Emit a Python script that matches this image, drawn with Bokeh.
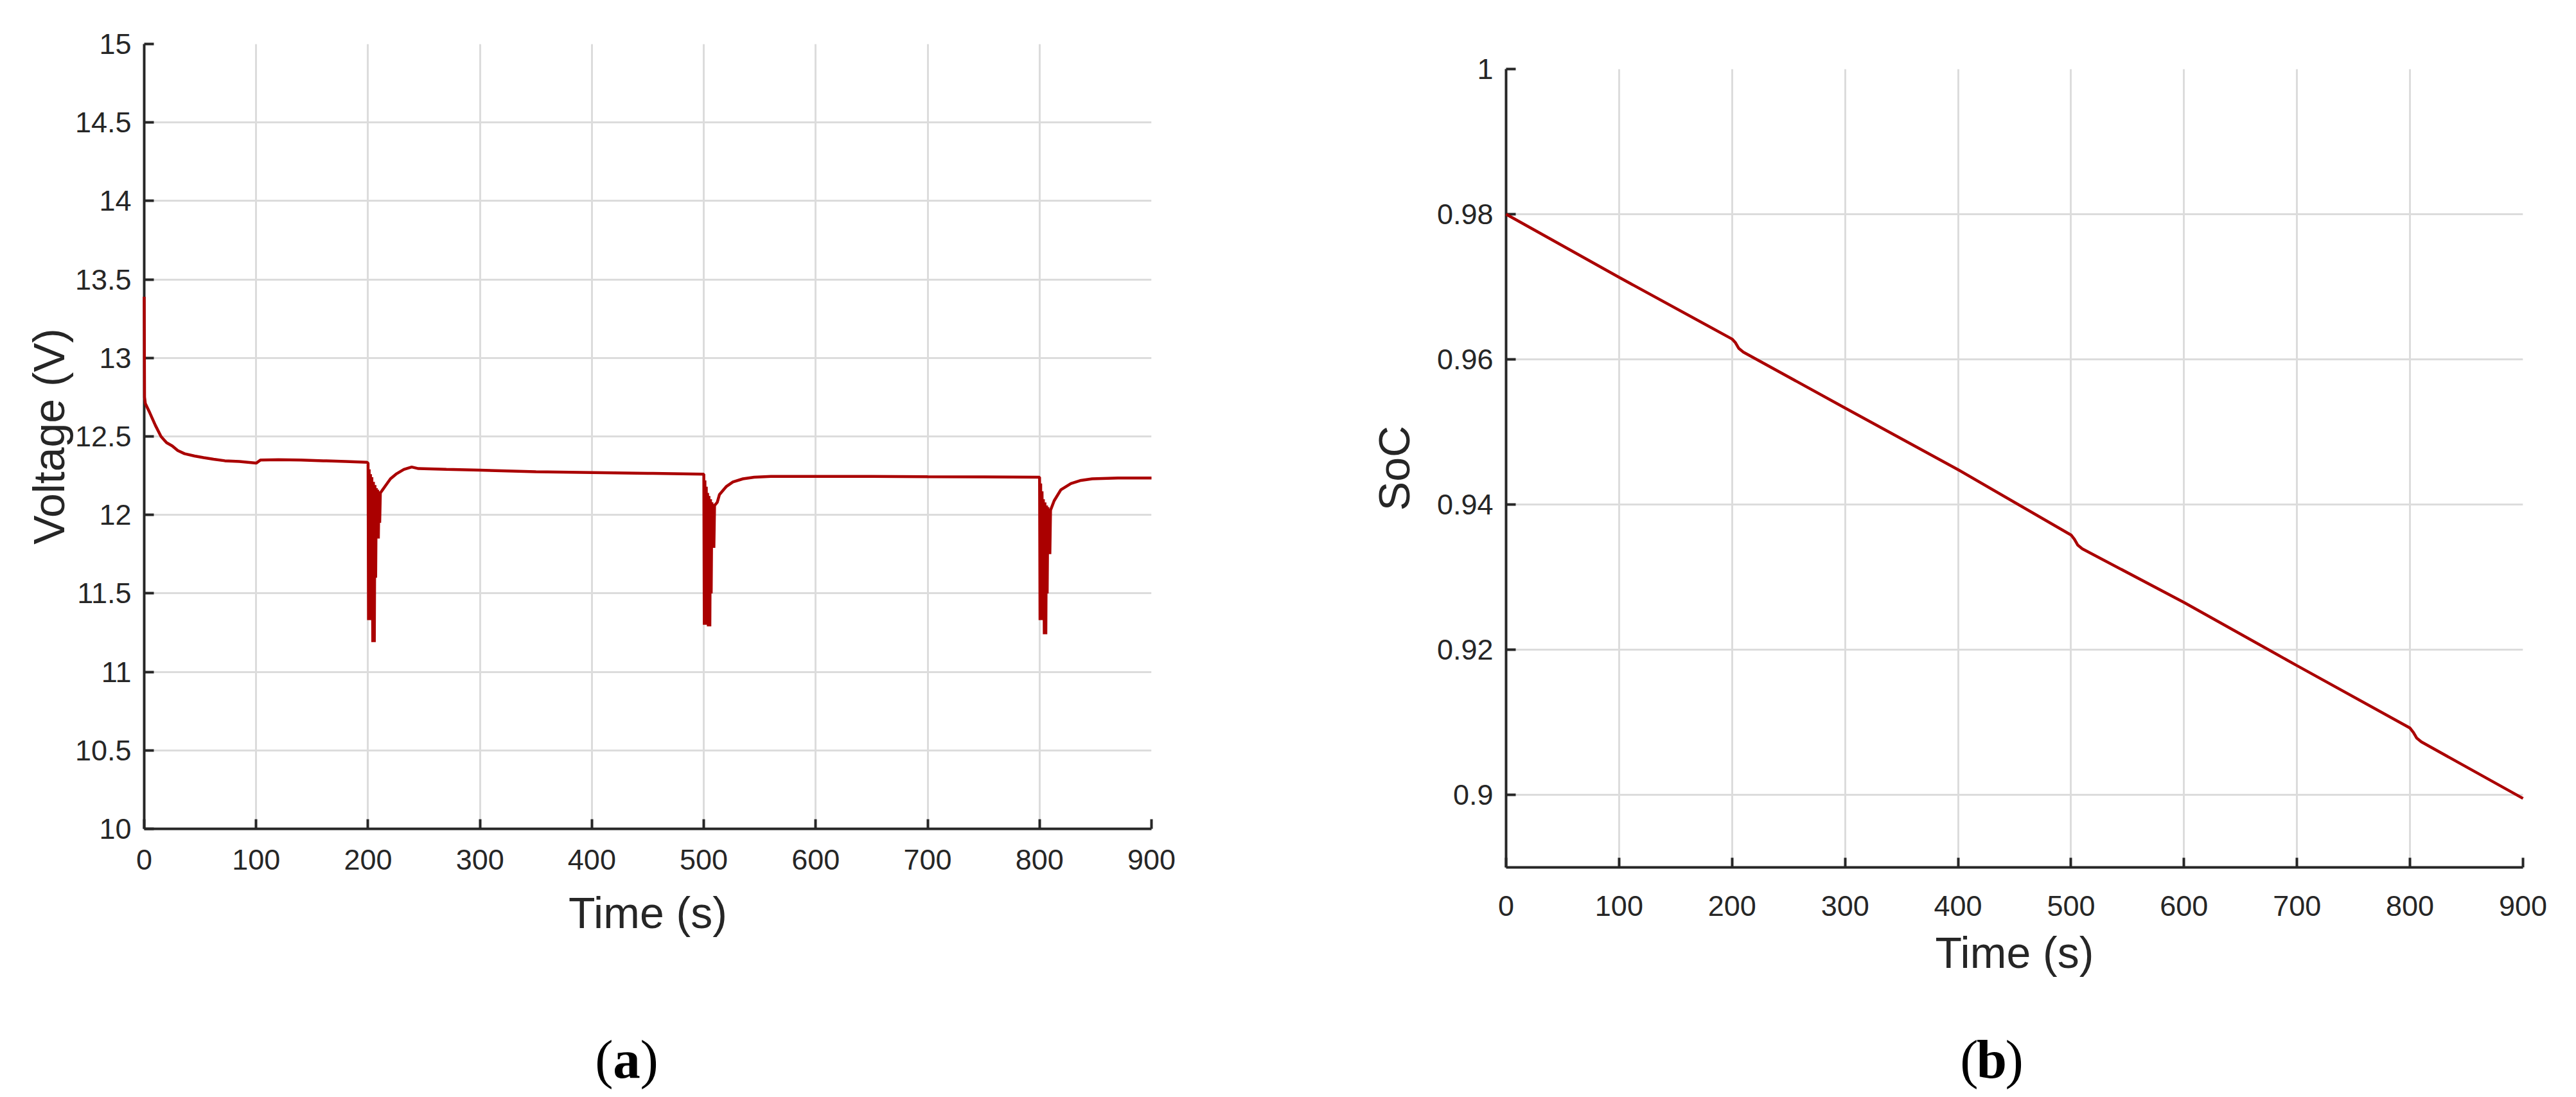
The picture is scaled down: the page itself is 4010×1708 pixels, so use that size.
from bokeh.plotting import figure
from bokeh.layouts import column, row
from bokeh.models import FixedTicker, NumeralTickFormatter, Range1d, Spacer
from bokeh.embed import file_html
from bokeh.resources import INLINE
from bokeh.core.properties import value

# ---------------- data ----------------
x_ticks = [0, 100, 200, 300, 400, 500, 600, 700, 800, 900]
v_ticks = [10, 10.5, 11, 11.5, 12, 12.5, 13, 13.5, 14, 14.5, 15]
soc_ticks = [0.9, 0.92, 0.94, 0.96, 0.98, 1.0]

# (a) terminal voltage (V) vs time (s)
time_v = [0, 0.3, 1, 5, 10, 15, 20, 25, 30, 36, 45, 53, 62, 72, 85, 100, 104, 120, 140, 160, 180, 199,
          200.0, 200.4, 201.0, 201.6, 202.2, 202.8, 203.4, 204.2, 204.8, 205.6, 206.2, 206.8, 207.4, 208.0,
          208.6, 209.2, 209.8, 210.4, 211.0,
          213, 216, 220, 225, 232, 239, 245, 270, 300, 350, 400, 450, 499,
          500.0, 500.4, 501.0, 501.6, 502.2, 502.8, 503.4, 504.0, 504.6, 505.4, 506.0, 506.6, 507.2, 507.8,
          508.4, 509.0, 509.6,
          512, 514, 520, 526, 535, 545, 560, 583, 650, 700, 750, 799,
          800.0, 800.4, 801.0, 801.6, 802.2, 802.8, 803.4, 804.2, 804.8, 805.6, 806.2, 806.8, 807.4, 808.0,
          808.6, 809.2, 809.8,
          813, 819, 828, 837, 847, 870, 900]
voltage = [13.39, 12.75, 12.71, 12.65, 12.57, 12.50, 12.46, 12.44, 12.41, 12.39, 12.375, 12.365, 12.355, 12.345,
           12.34, 12.33, 12.35, 12.352, 12.35, 12.345, 12.34, 12.335,
           12.33, 11.33, 12.29, 11.33, 12.26, 11.70, 12.24, 11.19, 12.21, 11.19, 12.19, 11.60, 12.17, 11.85,
           12.16, 11.85, 12.15, 11.95, 12.14,
           12.16, 12.19, 12.23, 12.26, 12.29, 12.305, 12.295, 12.29, 12.285, 12.275, 12.27, 12.265, 12.26,
           12.26, 11.30, 12.22, 11.30, 12.18, 11.60, 12.14, 11.29, 12.12, 11.29, 12.10, 11.50, 12.08, 11.79,
           12.07, 11.79, 12.06,
           12.08, 12.13, 12.18, 12.21, 12.23, 12.24, 12.245, 12.245, 12.245, 12.243, 12.242, 12.24,
           12.24, 11.33, 12.20, 11.33, 12.15, 11.70, 12.10, 11.24, 12.08, 11.24, 12.06, 11.50, 12.05, 11.75,
           12.04, 11.75, 12.03,
           12.09, 12.16, 12.20, 12.22, 12.23, 12.235, 12.235]

# (b) state of charge vs time (s)
time_soc = [0, 100, 200, 203, 206, 210, 300, 400, 500, 503, 506, 510, 600, 700, 800, 803, 806, 810, 900]
soc = [0.980, 0.9713, 0.9628, 0.9623, 0.9615, 0.9610, 0.9533, 0.9448, 0.9358, 0.9352, 0.9344, 0.9339,
       0.9265, 0.9178, 0.9092, 0.9086, 0.9078, 0.9073, 0.8995]

captions = ["a", "b"]

# ---------------- styling ----------------
LINE = "#aa0000"
DARK = "#262626"
GRID = "#dcdcdc"
FONT = "Liberation Sans"
SERIF = "Liberation Serif"


def style(p, yticks, yfmt, xstand, ystand, xlab_stand, ylab_stand):
    p.outline_line_color = None
    p.background_fill_color = "white"
    p.border_fill_color = "white"
    p.xaxis.ticker = FixedTicker(ticks=x_ticks)
    p.yaxis.ticker = FixedTicker(ticks=yticks)
    p.yaxis.formatter = NumeralTickFormatter(format=yfmt)
    for ax in (p.xaxis, p.yaxis):
        ax.axis_line_color = DARK
        ax.axis_line_width = 4
        ax.major_tick_line_color = DARK
        ax.major_tick_line_width = 4
        ax.major_tick_in = 15
        ax.major_tick_out = 0
        ax.minor_tick_line_color = None
        ax.major_label_text_font = FONT
        ax.major_label_text_font_size = "45px"
        ax.major_label_text_color = DARK
        ax.axis_label_text_font = FONT
        ax.axis_label_text_font_size = "68px"
        ax.axis_label_text_font_style = "normal"
        ax.axis_label_text_color = DARK
    p.xaxis.major_label_standoff = xstand
    p.yaxis.major_label_standoff = ystand
    p.xaxis.axis_label_standoff = xlab_stand
    p.yaxis.axis_label_standoff = ylab_stand
    for g in (p.xgrid, p.ygrid):
        g.grid_line_color = GRID
        g.grid_line_width = 3
    p.xgrid.ticker = FixedTicker(ticks=x_ticks)
    p.ygrid.ticker = FixedTicker(ticks=yticks)


p1 = figure(width=2000, height=1538, output_backend="svg", toolbar_location=None,
            x_range=Range1d(0, 900), y_range=Range1d(10, 15),
            min_border_left=224, min_border_right=208, min_border_top=68, min_border_bottom=248,
            x_axis_label="Time (s)", y_axis_label="Voltage (V)")
style(p1, v_ticks, "0.[0]", 32, 20, 26, 0)
p1.line(time_v, voltage, line_color=LINE, line_width=4.5, level="overlay")

p2 = figure(width=2010, height=1559, output_backend="svg", toolbar_location=None,
            x_range=Range1d(0, 900), y_range=Range1d(0.89, 1.0),
            min_border_left=344, min_border_right=83, min_border_top=68, min_border_bottom=248,
            x_axis_label="Time (s)", y_axis_label="SoC")
style(p2, soc_ticks, "0.[00]", 44, 20, 16, 26)
p2.line(time_soc, soc, line_color=LINE, line_width=4.5, level="overlay")

# caption strip spanning the page width
CAP_W, CAP_H = 4010, 110
cap = figure(width=CAP_W, height=CAP_H, output_backend="svg", toolbar_location=None,
             x_range=Range1d(0, CAP_W), y_range=Range1d(0, CAP_H), min_border=0)
cap.axis.visible = False
cap.grid.visible = False
cap.outline_line_color = None
cx = [975, 3100]
cy = [60, 60]
cap.text(x=cx, y=cy, text=captions, text_font=value(SERIF), text_font_size="85px",
         text_font_style="bold", text_align="center", text_baseline="alphabetic", text_color="black")
cap.text(x=[c - 21 for c in cx], y=cy, text=["(", "("], text_font=value(SERIF), text_font_size="85px",
         text_align="right", text_baseline="alphabetic", text_color="black")
cap.text(x=[c + 21 for c in cx], y=cy, text=[")", ")"], text_font=value(SERIF), text_font_size="85px",
         text_align="left", text_baseline="alphabetic", text_color="black")

layout = column(row(column(p1), column(Spacer(width=2010, height=39), p2)), cap)
open("out.html", "w").write(file_html(layout, INLINE))
